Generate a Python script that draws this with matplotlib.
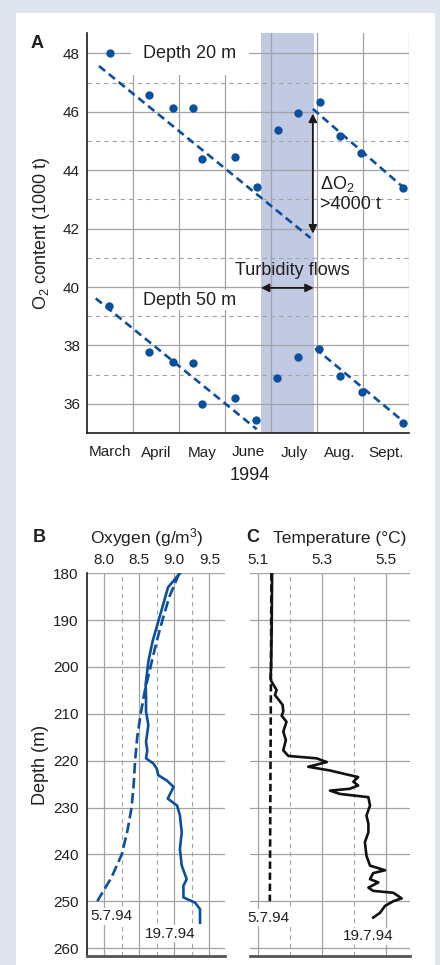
import matplotlib
matplotlib.use("Agg")
import matplotlib.pyplot as plt
from matplotlib.patches import Rectangle


# DATA

# Panel A: O2 content, x = months since 1 March 1994
month_labels = ["March", "April", "May", "June", "July", "Aug.", "Sept."]

t20 = [0.49, 1.35, 1.86, 2.31, 2.49, 3.22, 3.69, 4.15, 4.59, 5.07, 5.51, 5.96, 6.88]
o2_20 = [48.02, 46.56, 46.12, 46.12, 44.37, 44.45, 43.44, 45.37, 45.97, 46.32, 45.18, 44.60, 43.38]

t50 = [0.48, 1.35, 1.86, 2.31, 2.50, 3.22, 3.67, 4.14, 4.59, 5.05, 5.51, 5.97, 6.88]
o2_50 = [39.35, 37.78, 37.44, 37.39, 35.98, 36.20, 35.46, 36.90, 37.60, 37.88, 36.95, 36.40, 35.33]

trend20_before_x = [0.26, 4.86]
trend20_before_y = [47.57, 41.68]
trend20_after_x = [4.91, 6.96]
trend20_after_y = [46.10, 43.30]
trend50_before_x = [0.19, 3.69]
trend50_before_y = [39.61, 35.13]
trend50_after_x = [4.96, 6.95]
trend50_after_y = [37.90, 35.30]

turbidity_span = [3.78, 4.93]
delta_o2_x = 4.91
delta_o2_range = [45.94, 41.83]

# Panel B: oxygen profiles
oxy_depth_0507 = [180, 185, 190, 195, 200, 205, 210, 215, 220, 225, 230, 235, 240, 245, 250]
oxy_0507 = [9.07, 8.93, 8.83, 8.74, 8.66, 8.58, 8.52, 8.47, 8.44, 8.42, 8.39, 8.33, 8.25, 8.10, 7.90]

oxy_depth_1907 = [180, 183, 188.8, 194.5, 198.8, 203.8, 206, 209.5, 212.4, 216, 217.8, 219.5,
                  220.6, 221.7, 223.1, 224.2, 225.6, 227.1, 228.1, 229.6, 231.7, 235.3, 238.9,
                  242.4, 245.3, 246.7, 249.2, 250.3, 251.7, 254.6]
oxy_1907 = [9.08, 8.91, 8.80, 8.69, 8.63, 8.59, 8.596, 8.596, 8.629, 8.596, 8.614, 8.596,
            8.70, 8.749, 8.77, 8.89, 8.99, 8.94, 8.906, 9.04, 9.08, 9.106, 9.08,
            9.106, 9.177, 9.13, 9.13, 9.296, 9.367, 9.367]

# Panel C: temperature profiles
temp_depth_0507 = [180, 250]
temp_0507 = [5.143, 5.138]

temp_depth_1907 = [180, 190, 200, 202.4, 203.1, 204.9, 206, 208.1, 209.5, 210.4, 211.7, 213.8,
                   215.6, 217.8, 219.0, 219.5, 220.3, 221.3, 222.1, 223.1, 223.5, 224.5, 225.3,
                   226.0, 226.4, 227.1, 227.8, 229.6, 231.7, 233.5, 235.3, 237.4, 240.3, 242.4,
                   243.4, 244.0, 245.3, 246.0, 247.1, 247.8, 248.2, 249.4, 250.0, 251.0, 252.5,
                   253.5]
temp_1907 = [5.145, 5.144, 5.142, 5.14, 5.143, 5.159, 5.154, 5.178, 5.18, 5.175, 5.19, 5.18,
             5.188, 5.18, 5.196, 5.284, 5.316, 5.258, 5.326, 5.388, 5.414, 5.399, 5.414,
             5.388, 5.326, 5.357, 5.446, 5.451, 5.44, 5.446, 5.446, 5.435, 5.44, 5.451,
             5.498, 5.461, 5.451, 5.477, 5.446, 5.461, 5.524, 5.55, 5.524, 5.498, 5.482,
             5.461]


# STYLE

plt.rcParams["font.family"] = ["Liberation Sans", "DejaVu Sans"]
plt.rcParams["mathtext.fontset"] = "custom"
plt.rcParams["mathtext.rm"] = "Liberation Sans"
plt.rcParams["mathtext.it"] = "Liberation Sans:italic"
plt.rcParams["mathtext.bf"] = "Liberation Sans:bold"

BG = "#dfe5ef"
BAND = "#c1c9e3"
BLUE = "#0b4f9f"
GRID = "#a3a3a3"
TXT = "#231f20"

W, H = 440, 965
fig = plt.figure(figsize=(W / 100, H / 100), dpi=100)
fig.patch.set_facecolor(BG)
fig.patches.append(Rectangle((16 / W, 0), (435 - 16) / W, 1 - 13 / H,
                             transform=fig.transFigure, fc="white", ec="none", zorder=-10))


def px_axes(left, top, right, bottom):
    ax = fig.add_axes([left / W, 1 - bottom / H, (right - left) / W, (bottom - top) / H])
    ax.patch.set_alpha(0)
    return ax


def style_grid(ax):
    ax.grid(which="major", axis="both", color=GRID, lw=0.9, ls="-")
    ax.tick_params(which="both", length=0, labelsize=11, colors=TXT)


# PANEL A

axA = px_axes(87, 33, 409, 433)
axA.set_xlim(0, 7)
axA.set_ylim(35, 48.7)

axA.axvspan(*turbidity_span, color=BAND, lw=0, zorder=0.5)

axA.set_xticks([0.5, 1.5, 2.5, 3.5, 4.5, 5.5, 6.5])
axA.set_xticklabels(month_labels)
axA.set_xticks([1, 2, 3, 4, 5, 6, 7], minor=True)
axA.set_yticks([36, 38, 40, 42, 44, 46, 48])
axA.set_yticks([37, 39, 41, 43, 45, 47], minor=True)
axA.tick_params(which="both", length=0, labelsize=11, colors=TXT)
axA.tick_params(axis="x", pad=9)
axA.tick_params(axis="y", pad=5)
axA.grid(axis="y", which="major", color=GRID, lw=0.9, ls="-", zorder=1)
axA.grid(axis="y", which="minor", color=GRID, lw=0.8, dashes=(4, 3.5), zorder=1)
axA.grid(axis="x", which="minor", color=GRID, lw=0.9, ls="-", zorder=1)
axA.set_axisbelow(True)
for s in ["top", "right"]:
    axA.spines[s].set_visible(False)
for s in ["left", "bottom"]:
    axA.spines[s].set_color("#1a1a1a")
    axA.spines[s].set_linewidth(1.2)

for tx, ty in [(trend20_before_x, trend20_before_y), (trend20_after_x, trend20_after_y),
               (trend50_before_x, trend50_before_y), (trend50_after_x, trend50_after_y)]:
    axA.plot(tx, ty, color=BLUE, lw=1.9, dashes=(3.0, 1.8), zorder=3)

axA.plot(t20, o2_20, "o", color=BLUE, ms=6, mew=0, zorder=4)
axA.plot(t50, o2_50, "o", color=BLUE, ms=6, mew=0, zorder=4)

axA.text(2.24, 48.0, "Depth 20 m", fontsize=13, color=TXT, ha="center", va="center",
         bbox=dict(boxstyle="square,pad=0.7", fc="white", ec="none"), zorder=2)
axA.text(2.24, 39.55, "Depth 50 m", fontsize=13, color=TXT, ha="center", va="center",
         bbox=dict(boxstyle="square,pad=0.1", fc="white", ec="none"), zorder=2)
axA.text(4.47, 40.55, "Turbidity flows", fontsize=13, color=TXT, ha="center", va="center",
         zorder=5)
axA.annotate("", xy=(turbidity_span[0], 39.97), xytext=(turbidity_span[1], 39.97),
             arrowprops=dict(arrowstyle="<|-|>", color="#1a1a1a", lw=1.3,
                             mutation_scale=12, shrinkA=0, shrinkB=0), zorder=5)
axA.annotate("", xy=(delta_o2_x, delta_o2_range[0]), xytext=(delta_o2_x, delta_o2_range[1]),
             arrowprops=dict(arrowstyle="<|-|>", color="#1a1a1a", lw=1.3,
                             mutation_scale=12, shrinkA=0, shrinkB=0), zorder=5)
axA.text(5.07, 43.54, "ΔO$_2$", fontsize=13, color=TXT, ha="left", va="center", zorder=5)
axA.text(5.07, 42.82, ">4000 t", fontsize=13, color=TXT, ha="left", va="center", zorder=5)

fig.text(37 / W, 1 - 43 / H, "A", fontsize=13, fontweight="bold", color=TXT,
         ha="center", va="center")
fig.text(41 / W, 1 - 233 / H, "O$_2$ content (1000 t)", fontsize=13, color=TXT,
         rotation=90, ha="center", va="center")
fig.text(250 / W, 1 - 475 / H, "1994", fontsize=13, color=TXT, ha="center", va="center")


# PANEL B

depth_ticks = [180, 190, 200, 210, 220, 230, 240, 250, 260]

axB = px_axes(87, 573, 225, 956)
axB.set_xlim(7.753, 9.724)
axB.set_ylim(261.7, 179.94)
axB.xaxis.tick_top()
axB.set_xticks([8.0, 8.5, 9.0, 9.5])
axB.set_xticklabels(["8.0", "8.5", "9.0", "9.5"])
axB.set_xticks([8.25, 8.75, 9.25], minor=True)
axB.set_yticks(depth_ticks)
style_grid(axB)
axB.grid(axis="x", which="minor", color=GRID, lw=0.8, dashes=(4, 3.5))
axB.tick_params(axis="x", pad=4)
axB.tick_params(axis="y", pad=6)
for s in ["top", "right"]:
    axB.spines[s].set_visible(False)
axB.spines["left"].set_color("#1a1a1a")
axB.spines["left"].set_linewidth(1.2)
axB.spines["bottom"].set_color("#555555")
axB.spines["bottom"].set_linewidth(2)

axB.plot(oxy_0507, oxy_depth_0507, color=BLUE, lw=1.9, dashes=(4, 1.7), zorder=3)
axB.plot(oxy_1907, oxy_depth_1907, color=BLUE, lw=1.9, zorder=3)
axB.text(8.106, 253.2, "5.7.94", fontsize=11, color=TXT, ha="center", va="center",
         bbox=dict(boxstyle="square,pad=0.1", fc="white", ec="none"), zorder=4)
axB.text(8.94, 256.9, "19.7.94", fontsize=11, color=TXT, ha="center", va="center",
         bbox=dict(boxstyle="square,pad=0.1", fc="white", ec="none"), zorder=4)

fig.text(39 / W, 1 - 537 / H, "B", fontsize=13, fontweight="bold", color=TXT,
         ha="center", va="center")
fig.text(147 / W, 1 - 538 / H, "Oxygen (g/m$^3$)", fontsize=12.5, color=TXT,
         ha="center", va="center")
fig.text(40 / W, 1 - 765 / H, "Depth (m)", fontsize=13, color=TXT,
         rotation=90, ha="center", va="center")


# PANEL C

axC = px_axes(250, 573, 410, 956)
axC.set_xlim(5.076, 5.576)
axC.set_ylim(261.7, 179.94)
axC.xaxis.tick_top()
axC.set_xticks([5.1, 5.3, 5.5])
axC.set_xticklabels(["5.1", "5.3", "5.5"])
axC.set_xticks([5.2, 5.4], minor=True)
axC.set_yticks(depth_ticks)
axC.set_yticklabels([])
style_grid(axC)
axC.grid(axis="x", which="minor", color=GRID, lw=0.8, dashes=(4, 3.5))
axC.tick_params(axis="x", pad=4)
for s in ["top", "right", "left"]:
    axC.spines[s].set_visible(False)
axC.spines["bottom"].set_color("#555555")
axC.spines["bottom"].set_linewidth(2)

axC.plot(temp_0507, temp_depth_0507, color="#111111", lw=1.9, dashes=(2.8, 1.4), zorder=3)
axC.plot(temp_1907, temp_depth_1907, color="#111111", lw=1.9, zorder=3)
axC.text(5.135, 253.5, "5.7.94", fontsize=11, color=TXT, ha="center", va="center",
         bbox=dict(boxstyle="square,pad=0.1", fc="white", ec="none"), zorder=4)
axC.text(5.444, 257.5, "19.7.94", fontsize=11, color=TXT, ha="center", va="center",
         bbox=dict(boxstyle="square,pad=0.1", fc="white", ec="none"), zorder=4)

fig.text(253 / W, 1 - 537 / H, "C", fontsize=13, fontweight="bold", color=TXT,
         ha="center", va="center")
fig.text(340 / W, 1 - 538 / H, "Temperature (°C)", fontsize=12.5, color=TXT,
         ha="center", va="center")

fig.savefig("out.png", dpi=100, facecolor=fig.get_facecolor())
